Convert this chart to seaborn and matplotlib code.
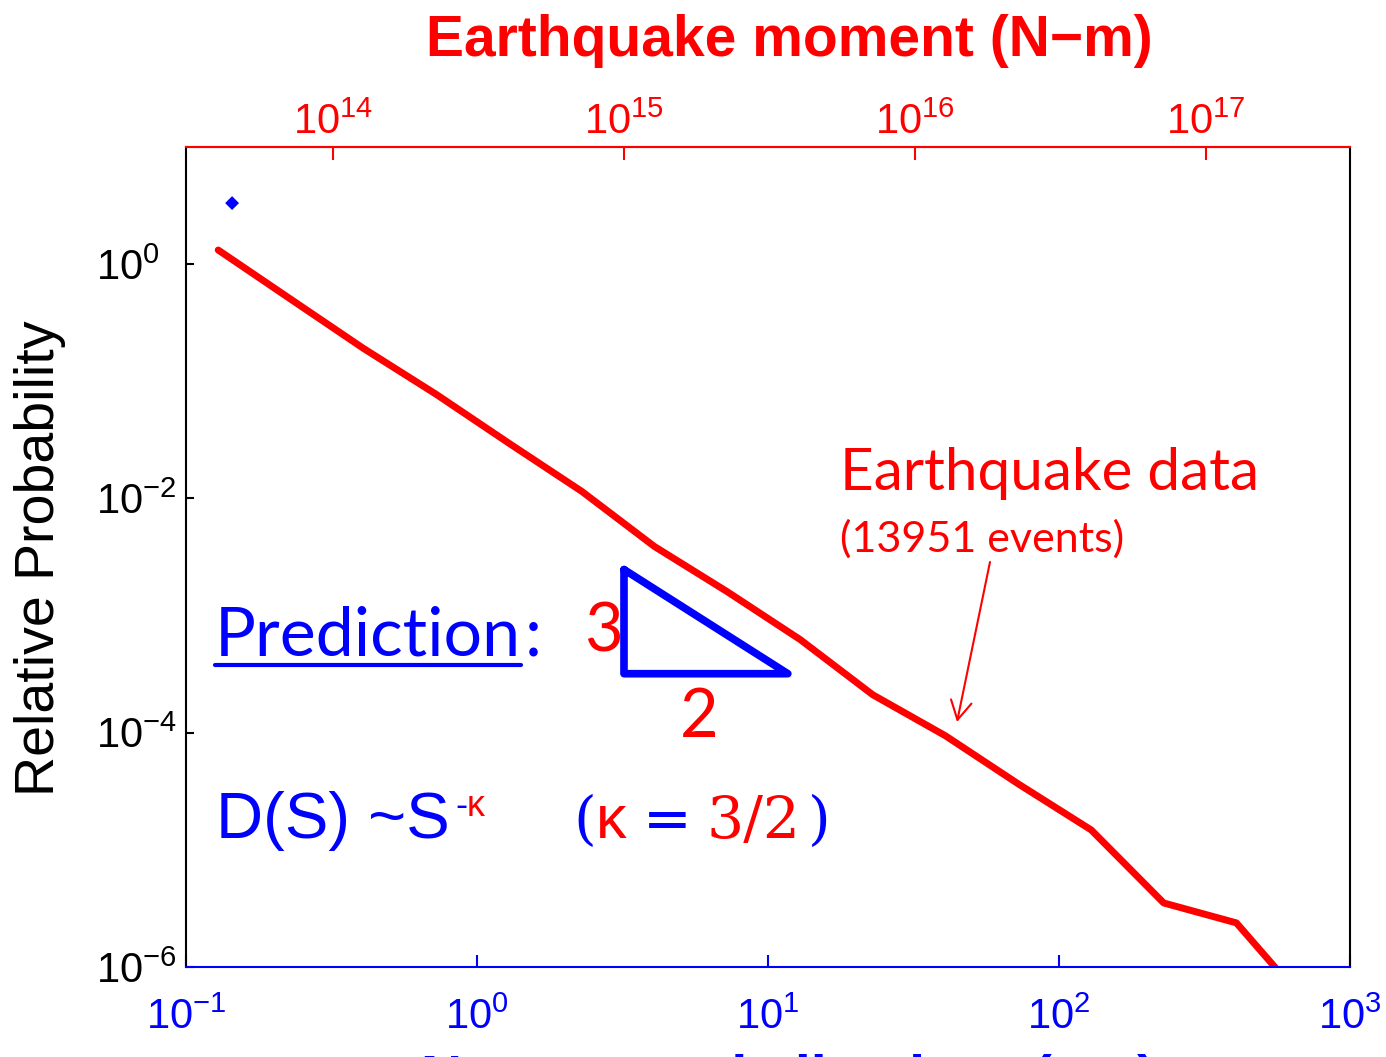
import matplotlib
matplotlib.use("Agg")
import matplotlib.pyplot as plt
import numpy as np
import pandas as pd
import seaborn as sns
from matplotlib.lines import Line2D
from matplotlib.ticker import FixedLocator, FixedFormatter, NullLocator

# ---- data -------------------------------------------------------------
# earthquake slip-size distribution (bottom axis in nanocrystal slip units)
slip_nm = [0.129, 0.229, 0.407, 0.724, 1.29, 2.29, 4.07, 7.24,
           12.9, 22.9, 40.7, 72.4, 129, 229, 407, 724]
rel_prob = [1.32, 0.502, 0.191, 0.0774, 0.0295, 0.0115, 0.00389, 0.0016,
            6.24e-4, 2.11e-4, 9.42e-5, 3.66e-5, 1.48e-5, 3.52e-6, 2.38e-6, 4.6e-7]

# single nanocrystal point visible in this window
nano_slip = [0.144]
nano_prob = [3.32]

# slope triangle for D(S) ~ S^-3/2 (rise 3, run 2)
tri_x = [3.20, 3.20, 11.7, 3.20]
tri_y = [2.47e-3, 3.19e-4, 3.19e-4, 2.47e-3]

x_ticks = [0.1, 1, 10, 100, 1000]
x_tick_labels = [r"$10^{-1}$", r"$10^{0}$", r"$10^{1}$", r"$10^{2}$", r"$10^{3}$"]
y_ticks = [1e-6, 1e-4, 1e-2, 1]
y_tick_labels = [r"$10^{-6}$", r"$10^{-4}$", r"$10^{-2}$", r"$10^{0}$"]
moment_ticks = [1e14, 1e15, 1e16, 1e17]
moment_tick_labels = [r"$10^{14}$", r"$10^{15}$", r"$10^{16}$", r"$10^{17}$"]
moment_range = (10 ** 13.495, 10 ** 17.495)

# ---- style ------------------------------------------------------------
sns.set_theme(style="white")
plt.rcParams["font.family"] = ["Liberation Sans", "DejaVu Sans"]
plt.rcParams["mathtext.default"] = "regular"

RED = "#ff0000"
BLUE = "#0000ff"
W, H = 1386, 1057


def fpos(x, y):
    """pixel position (from top-left) -> figure fraction"""
    return x / W, 1 - y / H


fig = plt.figure(figsize=(W / 100, H / 100), dpi=100)
ax = fig.add_axes([186 / W, 1 - 967 / H, (1350 - 186) / W, (967 - 147) / H])
ax.set_xscale("log")
ax.set_yscale("log")

df = pd.DataFrame({"slip": slip_nm, "prob": rel_prob})
sns.lineplot(data=df, x="slip", y="prob", color=RED, linewidth=5,
             sort=False, estimator=None, ax=ax)
sns.scatterplot(x=nano_slip, y=nano_prob, marker="D", s=50, color=BLUE,
                edgecolor="none", ax=ax)
ax.plot(tri_x, tri_y, color=BLUE, lw=5.5, solid_joinstyle="round",
        solid_capstyle="round")

ax.set_xlim(0.1, 1000)
ax.set_ylim(1e-6, 10)
ax.set_xlabel("")
ax.set_ylabel("")

ax.xaxis.set_major_locator(FixedLocator(x_ticks))
ax.xaxis.set_major_formatter(FixedFormatter(x_tick_labels))
ax.xaxis.set_minor_locator(NullLocator())
ax.yaxis.set_major_locator(FixedLocator(y_ticks))
ax.yaxis.set_major_formatter(FixedFormatter(y_tick_labels))
ax.yaxis.set_minor_locator(NullLocator())

ax.tick_params(axis="x", which="both", bottom=True, top=False, direction="in",
               length=9, width=1.5, colors=BLUE, labelsize=30, pad=22)
ax.tick_params(axis="y", which="both", left=True, right=False, direction="in",
               length=6, width=1.5, colors="black", labelsize=30, pad=65)
# y labels share a common left edge
plt.setp(ax.yaxis.get_majorticklabels(), ha="left")

for side, col in [("bottom", BLUE), ("top", RED), ("left", "black"), ("right", "black")]:
    ax.spines[side].set_color(col)
    ax.spines[side].set_linewidth(1.5)
    ax.spines[side].set_visible(True)

# earthquake moment axis on top
ax2 = ax.twiny()
ax2.set_xscale("log")
ax2.set_xlim(*moment_range)
ax2.xaxis.set_major_locator(FixedLocator(moment_ticks))
ax2.xaxis.set_major_formatter(FixedFormatter(moment_tick_labels))
ax2.xaxis.set_minor_locator(NullLocator())
ax2.tick_params(axis="x", which="both", top=True, bottom=False, direction="in",
                length=9, width=1.5, colors=RED, labelsize=30, pad=3)
for side in ["bottom", "left", "right"]:
    ax2.spines[side].set_visible(False)
ax2.spines["top"].set_color(RED)
ax2.spines["top"].set_linewidth(1.5)

# axis titles
fig.text(*fpos(789, 56), "Earthquake moment (N\u2212m)", color=RED,
         fontsize=41, fontweight="bold", ha="center", va="baseline")
fig.text(*fpos(789, 1096), "Nanocrystal slip sizes (nm)", color=BLUE,
         fontsize=41, fontweight="bold", ha="center", va="baseline")
fig.text(*fpos(40, 558), "Relative Probability", color="black",
         fontsize=40, rotation=90, ha="center", va="center")

# annotations
lato = ["Lato", "DejaVu Sans"]
pred = fig.text(*fpos(215, 655), "Prediction", color=BLUE, fontsize=49,
                family=lato, va="baseline")
fig.text(*fpos(525, 655), ":", color=BLUE, fontsize=49, family=lato, va="baseline")
fig.text(*fpos(584, 652), "3", color=RED, fontsize=48, family=lato, va="baseline")
fig.text(*fpos(680, 737), "2", color=RED, fontsize=48, family=lato, va="baseline")

fig.text(*fpos(840, 490), "Earthquake data", color=RED, fontsize=42,
         family=lato, va="baseline")
fig.text(*fpos(840, 552), "(13951 events)", color=RED, fontsize=31,
         family=lato, va="baseline")

fig.text(*fpos(216, 838), "D(S) ~S", color=BLUE, fontsize=47, va="baseline")
fig.text(*fpos(455, 816), "-", color=BLUE, fontsize=26, va="baseline")
fig.text(*fpos(467, 816), "\u03ba", color=RED, fontsize=26, va="baseline")

serif = ["DejaVu Serif", "Liberation Serif"]
fig.text(*fpos(573, 838), "(", color=BLUE, fontsize=42, family=serif, va="baseline")
fig.text(*fpos(596, 838), "\u03ba", color=RED, fontsize=44, va="baseline")
fig.text(*fpos(643, 838), "=", color=BLUE, fontsize=42, family=serif, va="baseline")
fig.text(*fpos(707, 838), "3/2", color=RED, fontsize=42, family=serif, va="baseline")
fig.text(*fpos(808, 838), ")", color=BLUE, fontsize=42, family=serif, va="baseline")

# underline beneath "Prediction"
fig.canvas.draw()
bb = pred.get_window_extent()
fig.add_artist(Line2D([bb.x0 / W, bb.x1 / W], [1 - 665 / H] * 2,
                      transform=fig.transFigure, color=BLUE, lw=3))

# arrow from the label to the curve
ax.annotate("", xy=(957, H - 722), xytext=(990, H - 562),
            xycoords="figure pixels", textcoords="figure pixels",
            arrowprops=dict(arrowstyle="->,head_length=0.45,head_width=0.25",
                            color=RED, lw=1.5, mutation_scale=30,
                            shrinkA=0, shrinkB=0))

fig.savefig("out.png", dpi=100)
